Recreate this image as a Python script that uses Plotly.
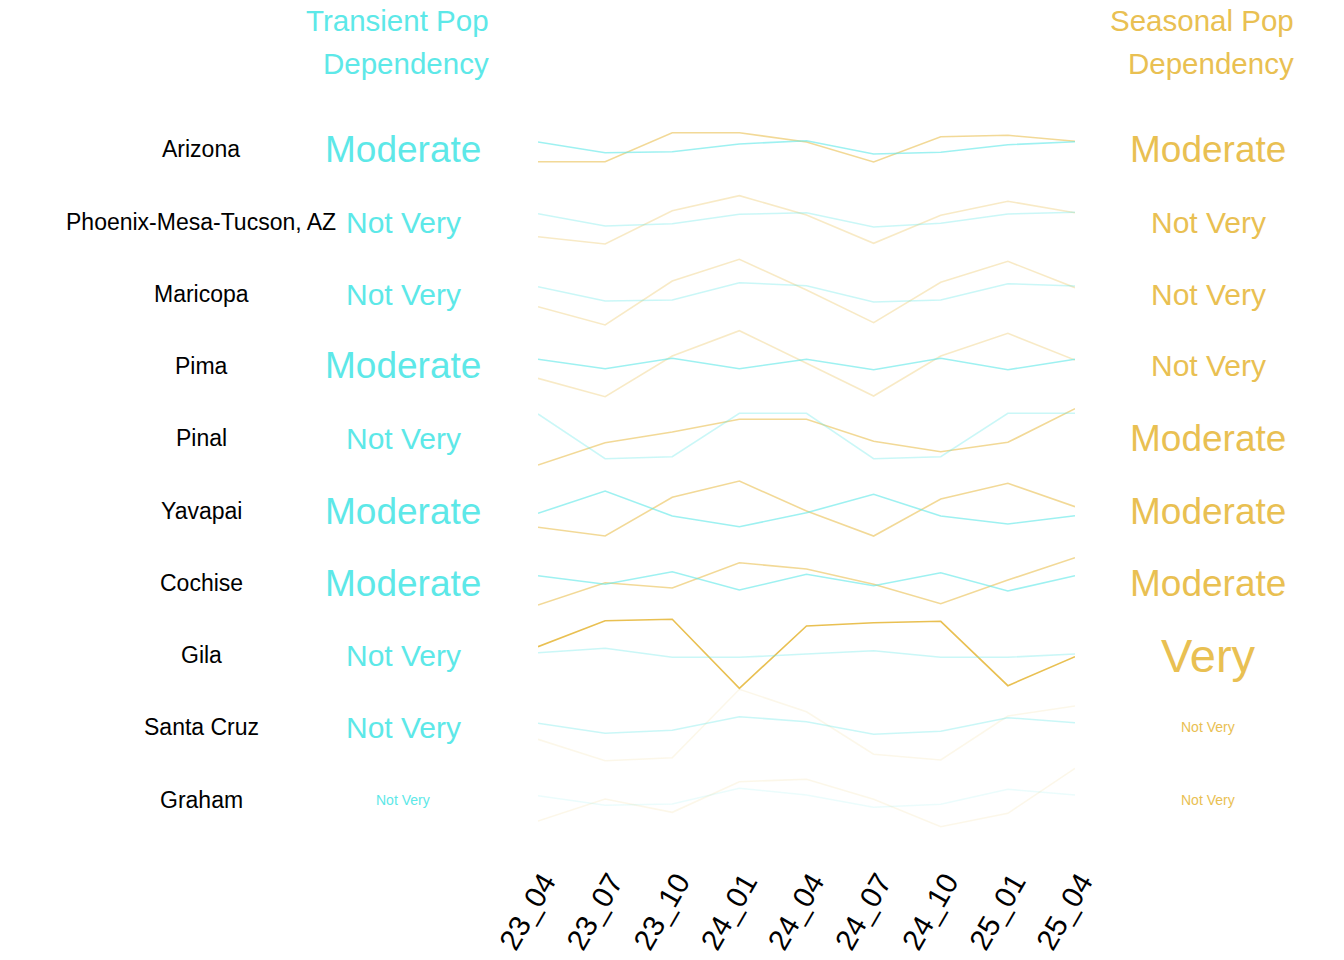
import plotly.graph_objects as go

# ---------------- data ----------------
quarters = ["23_04", "23_07", "23_10", "24_01", "24_04", "24_07", "24_10", "25_01", "25_04"]

regions = ["Arizona", "Phoenix-Mesa-Tucson, AZ", "Maricopa", "Pima", "Pinal",
           "Yavapai", "Cochise", "Gila", "Santa Cruz", "Graham"]

transient_level = ["Moderate", "Not Very", "Not Very", "Moderate", "Not Very",
                   "Moderate", "Moderate", "Not Very", "Not Very", "Not Very"]
seasonal_level = ["Moderate", "Not Very", "Not Very", "Not Very", "Moderate",
                  "Moderate", "Moderate", "Very", "Not Very", "Not Very"]

# relative index deviation per quarter (per region)
transient_arizona = [7, -3.7, -2.7, 5, 8.3, -5, -3.3, 4.3, 7.3]
transient_phoenix = [8.3, -4, -1.7, 7.7, 9.3, -5, -1.3, 8, 9.7]
transient_maricopa = [7.3, -7, -6, 11.3, 8.3, -8, -6, 10.3, 8]
transient_pima = [6.7, -2.7, 7.7, -2.7, 6.7, -3.7, 7.7, -3.7, 6.7]
transient_pinal = [24, -20.7, -18.7, 24.7, 24.7, -20.7, -18.7, 24.7, 24.7]
transient_yavapai = [-2.3, 20, -5, -15.7, -1.7, 16.7, -5, -13, -4.7]
transient_cochise = [7.3, -1.3, 11.3, -7, 8.7, -2.7, 10.3, -8, 7.3]
transient_gila = [2.3, 6.7, -2.3, -2.3, 1, 4.3, -2.3, -2.3, 1]
transient_santa_cruz = [3.7, -6.3, -3.3, 10.3, 5.3, -7.3, -4.3, 9.3, 4.3]
transient_graham = [4.3, -5.3, -4, 11.7, 5, -7.3, -4.3, 10.7, 5]

seasonal_arizona = [-12.7, -12.7, 16.3, 16.3, 7, -13, 12.3, 13.7, 7.7]
seasonal_phoenix = [-14.7, -22, 11.3, 26.3, 7, -21.3, 6.7, 20.7, 9.3]
seasonal_maricopa = [-12.7, -31, 13, 34.7, 4, -28.7, 11.7, 32.7, 6.3]
seasonal_pima = [-12.3, -30.7, 10, 35.3, 2.7, -30, 10, 32.7, 6]
seasonal_pinal = [-27, -4.7, 6, 18.7, 18.7, -3.3, -13.7, -4.3, 29.3]
seasonal_yavapai = [-16.3, -25, 13.7, 30, 0, -25, 12, 27.7, 4.3]
seasonal_cochise = [-22, 0.3, -5, 20.3, 14, -1.3, -20.7, 3, 25.3]
seasonal_gila = [8.3, 34.3, 35.7, -33.3, 29, 32.3, 33.7, -30.7, -1.7]
seasonal_santa_cruz = [-12.3, -33.7, -30.7, 37.7, 15.3, -27.3, -33, 11, 21]
seasonal_graham = [-21, 1, -12.3, 18.3, 20.7, 0.7, -26.7, -13.3, 31.7]

transient_series = [transient_arizona, transient_phoenix, transient_maricopa, transient_pima,
                    transient_pinal, transient_yavapai, transient_cochise, transient_gila,
                    transient_santa_cruz, transient_graham]
seasonal_series = [seasonal_arizona, seasonal_phoenix, seasonal_maricopa, seasonal_pima,
                   seasonal_pinal, seasonal_yavapai, seasonal_cochise, seasonal_gila,
                   seasonal_santa_cruz, seasonal_graham]

# ---------------- styles ----------------
CYAN = "93,232,232"
GOLD = "233,192,82"
FONT = "Liberation Sans, Arial, sans-serif"
W, H = 1344, 960

row_centers_px = [149, 222, 294, 366, 438, 511, 583, 655, 727, 800]
band_half_px = 50
x_left_px, x_right_px = 538, 1075

level_size = {"Very": 47, "Moderate": 37, "Not Very": 30}
level_alpha = {"Very": 1.0, "Moderate": 0.6, "Not Very": 0.33}
# rows whose labels are rendered faint / small
transient_faint = [False] * 9 + [True]
seasonal_faint = [False] * 8 + [True, True]
FAINT_SIZE = 14
FAINT_ALPHA_T = 0.12
FAINT_ALPHA_S = 0.13

fig = go.Figure()
annotations = []
layout_axes = {}

for i, region in enumerate(regions):
    yname = "y" if i == 0 else f"y{i+1}"
    axname = "yaxis" if i == 0 else f"yaxis{i+1}"
    c = row_centers_px[i]
    layout_axes[axname] = dict(
        domain=[1 - (c + band_half_px) / H, 1 - (c - band_half_px) / H],
        range=[-band_half_px, band_half_px], visible=False, fixedrange=True,
        automargin=False,
    )
    ta = FAINT_ALPHA_T if transient_faint[i] else level_alpha[transient_level[i]]
    sa = FAINT_ALPHA_S if seasonal_faint[i] else level_alpha[seasonal_level[i]]
    fig.add_trace(go.Scatter(x=quarters, y=seasonal_series[i], mode="lines",
                             line=dict(color=f"rgba({GOLD},{sa})", width=1.6),
                             xaxis="x", yaxis=yname, hoverinfo="skip"))
    fig.add_trace(go.Scatter(x=quarters, y=transient_series[i], mode="lines",
                             line=dict(color=f"rgba({CYAN},{ta})", width=1.6),
                             xaxis="x", yaxis=yname, hoverinfo="skip"))

    annotations.append(dict(text=region, xref="paper", yref=yname, x=201 / W, y=0,
                            xanchor="center", yanchor="middle", showarrow=False,
                            font=dict(family=FONT, size=23, color="black")))
    tsize = FAINT_SIZE if transient_faint[i] else level_size[transient_level[i]]
    annotations.append(dict(text=transient_level[i], xref="paper", yref=yname, x=403 / W, y=0,
                            xanchor="center", yanchor="middle", showarrow=False,
                            font=dict(family=FONT, size=tsize, color=f"rgb({CYAN})")))
    ssize = FAINT_SIZE if seasonal_faint[i] else level_size[seasonal_level[i]]
    annotations.append(dict(text=seasonal_level[i], xref="paper", yref=yname, x=1208 / W, y=0,
                            xanchor="center", yanchor="middle", showarrow=False,
                            font=dict(family=FONT, size=ssize, color=f"rgb({GOLD})")))

# headers
for txt, xr, yp, col in [("Transient Pop", 491, 20, CYAN), ("Dependency", 491, 63, CYAN),
                          ("Seasonal Pop", 1296, 20, GOLD), ("Dependency", 1296, 63, GOLD)]:
    annotations.append(dict(text=txt, xref="paper", yref="paper", x=xr / W, y=1 - yp / H,
                            xanchor="right", yanchor="middle", showarrow=False,
                            font=dict(family=FONT, size=29.5, color=f"rgb({col})")))

fig.update_layout(
    width=W, height=H,
    margin=dict(l=0, r=0, t=0, b=0, pad=0, autoexpand=False),
    paper_bgcolor="white", plot_bgcolor="rgba(0,0,0,0)",
    showlegend=False,
    xaxis=dict(domain=[x_left_px / W, x_right_px / W], type="category",
               range=[0, len(quarters) - 1], anchor="free", position=1 - 858 / H,
               showgrid=False, zeroline=False, showline=False, ticks="",
               automargin=False, ticklabelshift=6,
               tickangle=-60, tickfont=dict(family=FONT, size=29.5, color="black"),
               fixedrange=True),
    annotations=annotations,
    **layout_axes,
)

fig.write_html("out.html", config={"displayModeBar": False},
               post_script="document.body.style.margin='0';document.body.style.overflow='hidden';")
